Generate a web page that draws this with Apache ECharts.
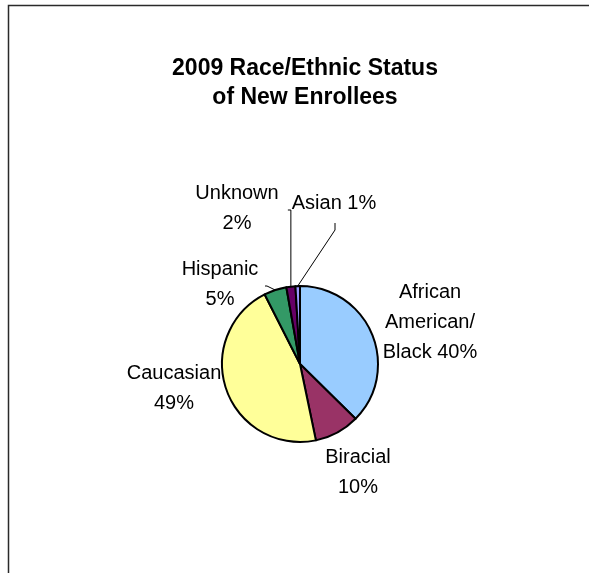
<!DOCTYPE html>
<html>
<head>
<meta charset="utf-8">
<script src="https://cdn.jsdelivr.net/npm/echarts@6/dist/echarts.min.js"></script>
<style>
  html, body { margin: 0; padding: 0; background: #fff; }
  #chart { width: 589px; height: 573px; }
</style>
</head>
<body>
<div id="chart"></div>
<script>
// Slice names (line breaks as they wrap in the labels) and their shares
const categories = ['African\nAmerican/\nBlack', 'Biracial', 'Caucasian', 'Hispanic', 'Unknown', 'Asian'];
const percentages = [40, 10, 49, 5, 2, 1];
const titleText = '2009 Race/Ethnic Status\nof New Enrollees';

// Slice fills, in the same order as the categories
const sliceColors = ['#99CCFF', '#993366', '#FFFF99', '#339966', '#660066', '#9999FF'];

// Where each label block sits (its centre), how name and share are joined,
// and which kind of leader line ties it back to its slice
const labelPlacement = [
  { x: 430, y: 322, sep: ' ',  leader: null },
  { x: 358, y: 472, sep: '\n', leader: null },
  { x: 174, y: 388, sep: '\n', leader: null },
  { x: 220, y: 284, sep: '\n', leader: 'hook-left' },
  { x: 237, y: 208, sep: '\n', leader: 'vertical' },
  { x: 334, y: 203, sep: ' ',  leader: 'diagonal' }
];

const FONT = '"Liberation Sans", Arial, Helvetica, sans-serif';

const chart = echarts.init(document.getElementById('chart'), null, { renderer: 'canvas' });

const seriesData = categories.map((name, i) => ({
  name: name,
  value: percentages[i],
  itemStyle: { color: sliceColors[i] },
  labelLine: { show: labelPlacement[i].leader !== null }
}));

function leaderPoints(kind, p0, pos) {
  if (kind === 'vertical') {
    return [p0, [p0[0], pos.y + 2], [p0[0] - 3, pos.y + 2]];
  }
  if (kind === 'diagonal') {
    return [p0, [pos.x + 1, pos.y + 27], [pos.x + 1, pos.y + 20]];
  }
  if (kind === 'hook-left') {
    return [p0, [pos.x + 47, pos.y + 2], [pos.x + 45, pos.y + 2]];
  }
  return undefined;
}

chart.setOption({
  animation: false,
  backgroundColor: '#ffffff',
  graphic: [
    {
      type: 'rect',
      silent: true,
      z: -10,
      shape: { x: 8.5, y: 5.5, width: 1200, height: 1200 },
      style: { fill: 'none', stroke: '#2a2a2a', lineWidth: 1.5 }
    },
    {
      type: 'text',
      silent: true,
      x: 305,
      y: 54,
      style: {
        text: titleText,
        font: 'bold 23px ' + FONT,
        fill: '#000',
        textAlign: 'center',
        align: 'center',
        textVerticalAlign: 'top',
        verticalAlign: 'top',
        lineHeight: 29
      }
    }
  ],
  series: [{
    type: 'pie',
    center: [300, 364],
    radius: 78,
    startAngle: 90,
    clockwise: true,
    avoidLabelOverlap: false,
    emphasis: { disabled: true },
    itemStyle: { borderColor: '#000', borderWidth: 2 },
    label: {
      show: true,
      position: 'outside',
      color: '#000',
      fontFamily: FONT,
      fontSize: 20,
      lineHeight: 30,
      align: 'center',
      formatter: p => p.name + labelPlacement[p.dataIndex].sep + p.value + '%'
    },
    labelLine: {
      lineStyle: { color: '#000', width: 1 },
      length: 10,
      length2: 5
    },
    labelLayout: function (params) {
      const pos = labelPlacement[params.dataIndex];
      const out = { x: pos.x, y: pos.y, align: 'center', verticalAlign: 'middle', hideOverlap: false };
      if (pos.leader && params.labelLinePoints && params.labelLinePoints.length) {
        const p0 = params.labelLinePoints[0];
        out.labelLinePoints = leaderPoints(pos.leader, [p0[0], p0[1]], pos);
      }
      return out;
    },
    data: seriesData
  }]
});
</script>
</body>
</html>
